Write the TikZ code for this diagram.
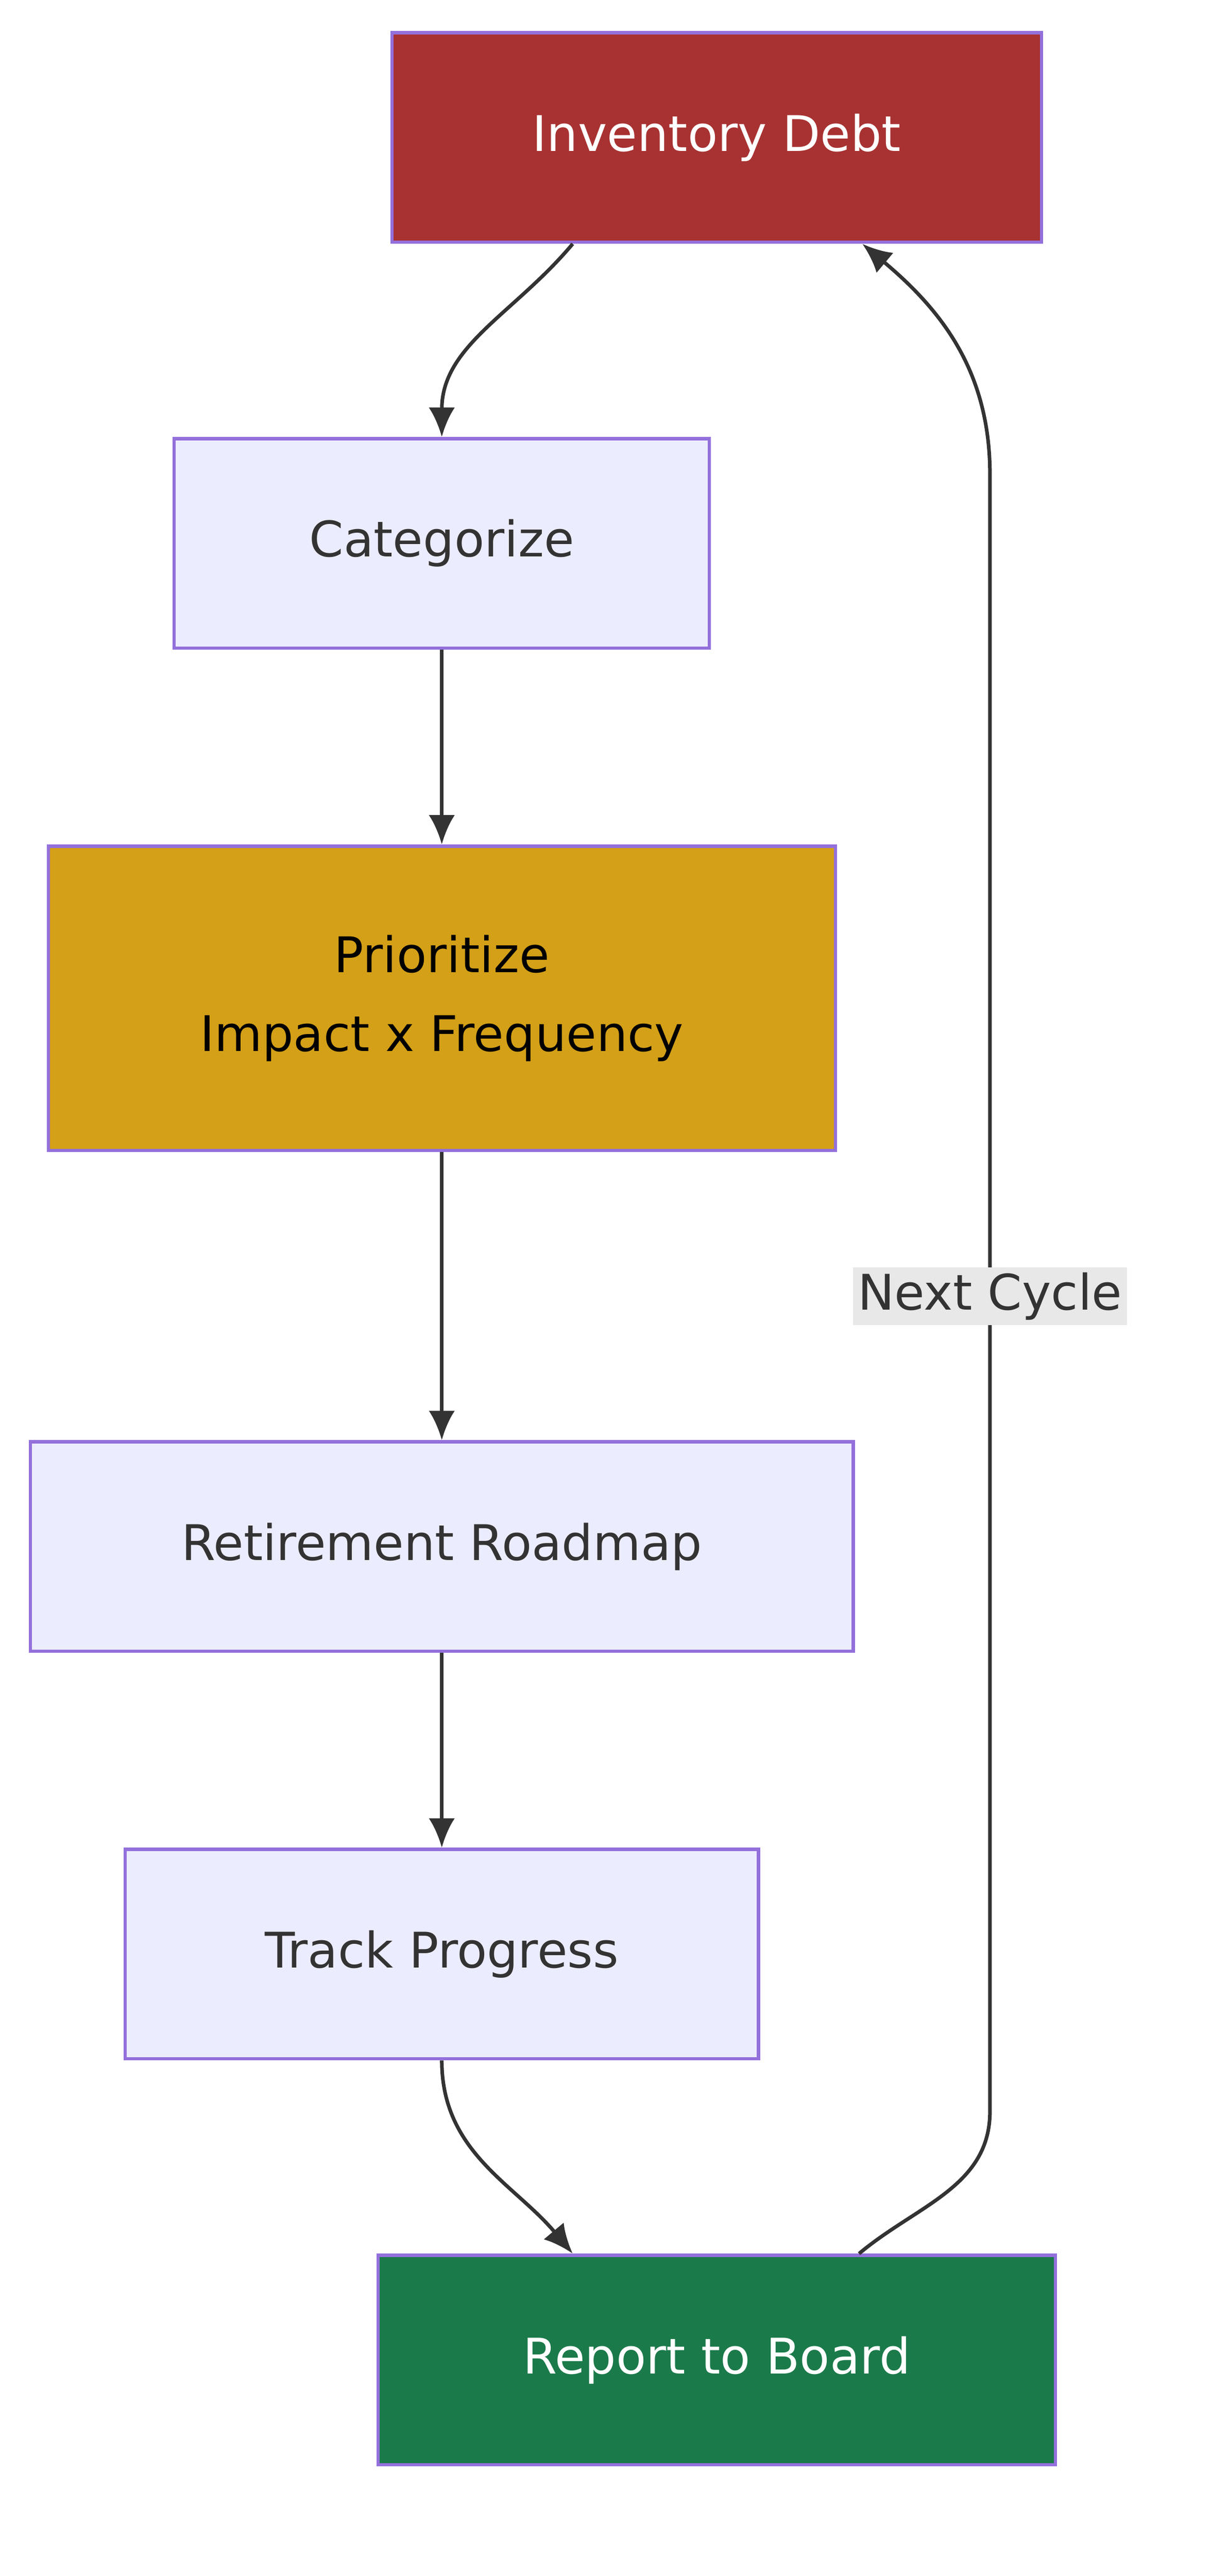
\documentclass[tikz,border=0pt]{standalone}
\usepackage{fontspec}
\setmainfont{DejaVu Sans}
\usetikzlibrary{positioning,arrows.meta}
\definecolor{debtred}{HTML}{A83232}
\definecolor{lavender}{HTML}{ECECFF}
\definecolor{stroke}{HTML}{9370DB}
\definecolor{gold}{HTML}{D4A017}
\definecolor{boardgreen}{HTML}{1B7A4A}
\definecolor{ink}{HTML}{333333}
\begin{document}
\begin{tikzpicture}[x=0.5pt,y=-0.5pt]
   \tikzset{box/.style={draw=stroke, line width=1pt, fill=lavender, text=ink, minimum height=64pt, font=\fontsize{15}{22}\selectfont, align=center, inner sep=0pt}}
   \tikzset{flow/.style={draw=ink, line width=1.1pt, -{Latex[length=9pt,width=8pt]}}}
   \useasboundingbox (0,0) rectangle (740,1574);

\node[box, fill=debtred, text=white, minimum width=198.5pt] (inv) at (438,84) {Inventory Debt};
\node[box, minimum width=163.5pt] (cat) at (270,332) {Categorize};
\node[box, fill=gold, text=black, minimum width=240.5pt, minimum height=93pt] (pri) at (270,610) {Prioritize\\[2pt]Impact x Frequency};
\node[box, minimum width=251.5pt] (road) at (270,945) {Retirement Roadmap};
\node[box, minimum width=193.5pt] (track) at (270,1194) {Track Progress};
\node[box, fill=boardgreen, text=white, minimum width=207pt] (board) at (438,1442) {Report to Board};
\coordinate (up) at (605,290);
\coordinate (down) at (605,1290);

\draw[flow] ([xshift=-44pt]inv.south) to[out=-130,in=90] (cat.north);
\draw[flow] (cat) -- (pri);
\draw[flow] (pri) -- (road);
\draw[flow] (road) -- (track);
\draw[flow] (track.south) to[out=-90,in=130] ([xshift=-44pt]board.north);
\draw[flow] ([xshift=43.5pt]board.north) to[out=40,in=-90] (down) -- (up) to[out=90,in=-40] ([xshift=44.5pt]inv.south);
\node[fill=black!9, text=ink, font=\fontsize{15}{18}\selectfont, inner sep=1.5pt] (next) at (605,792) {Next Cycle};
\end{tikzpicture}
\end{document}
